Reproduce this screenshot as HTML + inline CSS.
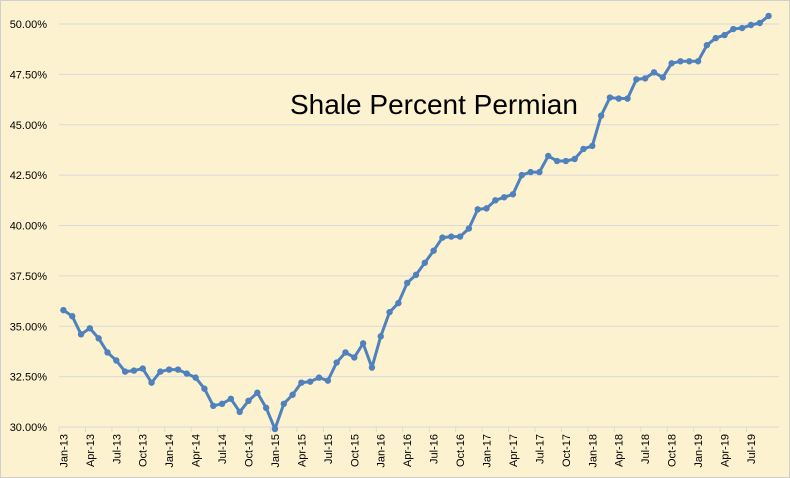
<!DOCTYPE html>
<html><head><meta charset="utf-8"><style>
body{margin:0;background:#fff}
svg{display:block;font-family:"Liberation Sans",sans-serif}
</style></head><body>
<svg id="chart" width="790" height="478">
<rect x="0.5" y="0.5" width="789" height="477" fill="#fdf2d0" stroke="#d0d0d0"/>
<g id="grid"></g><g id="yticks"></g><g id="xticks"></g><g id="series"></g>
<text x="290" y="114" font-size="28" fill="#000">Shale Percent Permian</text>
</svg>
<script>
const years=['13','14','15','16','17','18','19'];
const monthNames=['Jan','Feb','Mar','Apr','May','Jun','Jul','Aug','Sep','Oct','Nov','Dec'];
const values=[35.8,35.5,34.6,34.9,34.4,33.7,33.3,32.75,32.8,32.9,32.2,32.75,
32.85,32.85,32.65,32.45,31.9,31.05,31.15,31.4,30.75,31.3,31.7,30.95,
29.9,31.15,31.6,32.2,32.25,32.45,32.3,33.2,33.7,33.45,34.15,32.95,
34.5,35.7,36.15,37.15,37.55,38.15,38.75,39.4,39.45,39.45,39.85,40.8,
40.85,41.25,41.4,41.55,42.5,42.65,42.65,43.45,43.2,43.2,43.3,43.8,
43.95,45.45,46.35,46.3,46.3,47.25,47.3,47.6,47.35,48.05,48.15,48.15,
48.15,48.95,49.3,49.45,49.75,49.8,49.95,50.05,50.4];
const yTicks=[30,32.5,35,37.5,40,42.5,45,47.5,50];
const categories=values.map((v,i)=>monthNames[i%12]+'-'+years[Math.floor(i/12)]);
const NS='http://www.w3.org/2000/svg';
const plotLeft=59,plotRight=773,plotTop=24,plotBottom=427,yMin=30,yMax=50;
const step=(plotRight-plotLeft)/categories.length;
const xPos=i=>plotLeft+step*(i+0.5);
const yPos=v=>plotBottom-(v-yMin)/(yMax-yMin)*(plotBottom-plotTop);
function mk(t,a,p){const e=document.createElementNS(NS,t);for(const k in a)e.setAttribute(k,a[k]);p.appendChild(e);return e;}
const grid=document.getElementById('grid'),yt=document.getElementById('yticks'),xt=document.getElementById('xticks'),ser=document.getElementById('series');
yTicks.forEach(v=>{
 const l=mk('line',{x1:plotLeft,x2:plotRight+6,y1:yPos(v),y2:yPos(v),stroke:'#d9d9d9','stroke-width':1},grid);
 
 
 const t=mk('text',{x:47,y:yPos(v)+4,'font-size':11,'text-anchor':'end',fill:'#000'},yt);
 t.textContent=v.toFixed(2)+'%';
 
 
});
const ax=mk('line',{x1:plotLeft,x2:plotRight+6,y1:plotBottom,y2:plotBottom,stroke:'#d9d9d9'},xt);


categories.forEach((c,i)=>{
 if(i%3===0){
  const tk=mk('line',{x1:plotLeft+step*i,x2:plotLeft+step*i,y1:plotBottom,y2:plotBottom+5,stroke:'#d9d9d9'},xt);
  
  
  const t=mk('text',{x:0,y:0,'font-size':11,'text-anchor':'end',fill:'#000',transform:`translate(${xPos(i)+4},${plotBottom+7}) rotate(-90)`},xt);
  t.textContent=c;
  
  
 }
});
const pl=mk('polyline',{points:values.map((v,i)=>xPos(i)+','+yPos(v)).join(' '),fill:'none',stroke:'#4f81bd','stroke-width':3,'stroke-linejoin':'round'},ser);


values.forEach((v,i)=>{
 const c=mk('circle',{cx:xPos(i),cy:yPos(v),r:3.2,fill:'#4f81bd'},ser);
 
 
});
</script>
</body></html>
